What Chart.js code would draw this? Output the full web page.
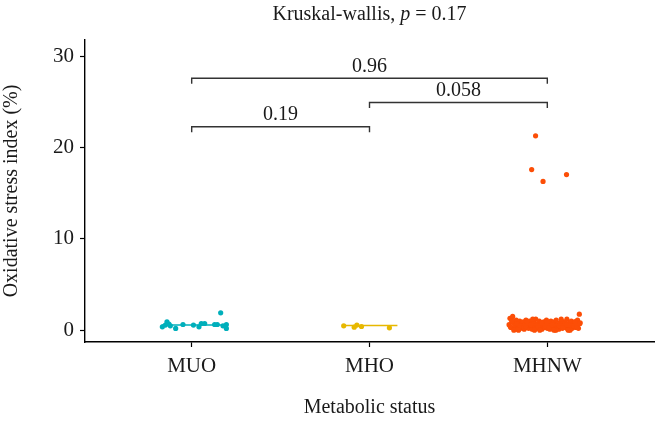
<html>
<head>
<script src="https://cdn.jsdelivr.net/npm/chart.js@4/dist/chart.umd.min.js"></script>
<style>
  body { margin: 0; background: #fff; }
  #wrap { width: 658px; height: 424px; }
</style>
</head>
<body>
<div id="wrap"><canvas id="chart"></canvas></div>
<script>
// groups and colours
const groups = ['MUO', 'MHO', 'MHNW'];
const groupColors = ['#00AFBB', '#E7B800', '#FC4E07'];
const yTicks = [0, 10, 20, 30];

// jitter offsets (category units) and values
const muoX = [-0.165, -0.148, -0.139, -0.128, -0.120, -0.090, -0.049, 0.010, 0.041, 0.054, 0.073, 0.129, 0.144, 0.163, 0.176, 0.195, 0.195];
const muoY = [0.36, 0.55, 0.91, 0.66, 0.47, 0.19, 0.62, 0.55, 0.36, 0.73, 0.73, 0.62, 0.62, 1.9, 0.47, 0.62, 0.19];

const mhoX = [-0.145, -0.086, -0.071, -0.045, 0.112];
const mhoY = [0.47, 0.33, 0.55, 0.40, 0.25];

const mhnwX = [
  -0.215, -0.21, -0.205, -0.20, -0.195, -0.19, -0.185, -0.18, -0.175, -0.17, -0.165, -0.16, -0.155, -0.15, -0.145, -0.14,
  -0.135, -0.13, -0.125, -0.12, -0.115, -0.11, -0.105, -0.10, -0.095, -0.09, -0.085, -0.08, -0.075, -0.07, -0.065, -0.06,
  -0.055, -0.05, -0.045, -0.04, -0.035, -0.03, -0.025, -0.02, -0.015, -0.01, -0.005, 0.00, 0.005, 0.01, 0.015, 0.02,
  0.025, 0.03, 0.035, 0.04, 0.045, 0.05, 0.055, 0.06, 0.065, 0.07, 0.075, 0.08, 0.085, 0.09, 0.095, 0.10,
  0.105, 0.11, 0.115, 0.12, 0.125, 0.13, 0.135, 0.14, 0.145, 0.15, 0.155, 0.16, 0.165, 0.17, 0.175, 0.185,
  -0.208, -0.188, -0.172, -0.152, -0.132, -0.112, -0.092, -0.072, -0.052, -0.032, -0.012, 0.008, 0.028, 0.048, 0.068, 0.088,
  0.108, 0.128, 0.148, 0.168, 0.182, -0.198, -0.162, -0.122, -0.082, -0.042, -0.002, 0.038, 0.078, 0.118, 0.158,
  -0.066, -0.088, -0.024, 0.108, 0.18
];
const mhnwY = [
  0.6, 1.3, 0.3, 0.9, 1.5, 0.2, 0.8, 0.5, 1.1, 0.1, 0.7, 0.4, 1.0, 0.2, 0.8, 0.5,
  0.9, 0.1, 0.6, 1.1, 0.3, 0.7, 0.2, 1.0, 0.5, 0.8, 0.1, 0.6, 0.9, 0.3, 1.2, 0.4,
  0.7, 0.2, 1.0, 0.5, 0.8, 0.1, 0.6, 0.9, 0.3, 0.7, 1.1, 0.2, 0.5, 0.8, 0.1, 1.0,
  0.4, 0.7, 0.2, 0.9, 0.5, 1.1, 0.3, 0.6, 0.1, 0.8, 0.4, 1.0, 0.2, 0.7, 0.5, 0.9,
  0.3, 1.2, 0.1, 0.6, 0.8, 0.4, 1.0, 0.2, 0.7, 0.5, 0.9, 0.3, 0.6, 1.1, 0.2, 0.8,
  0.4, 0.0, 0.7, 0.5, 0.3, 0.9, 0.6, 0.0, 0.4, 0.8, 0.5, 0.3, 0.6, 0.0, 0.5, 0.3,
  0.6, 0.0, 0.5, 0.4, 0.7, 1.0, 0.0, 0.4, 1.2, 0.0, 0.9, 0.0, 1.2, 0.0, 0.9,
  21.3, 17.6, 16.3, 17.05, 1.75
];

// horizontal median lines: [from offset, to offset, value]
const medianLo = [-0.169, -0.15, -0.2];
const medianHi = [0.185, 0.157, 0.19];
const medianVal = [0.55, 0.51, 0.6];

// pairwise comparisons
const pairFrom = [1, 2, 1];
const pairTo = [2, 3, 3];
const pairTop = [22.3, 24.95, 27.6];
const pairLabel = ['0.19', '0.058', '0.96'];
const bracketDrop = 0.6;

const FONT = "'Liberation Serif', 'DejaVu Serif', serif";

function pts(center, xs, ys) {
  return xs.map((x, i) => ({ x: center + x, y: ys[i] }));
}

const datasets = [];
// median lines first so points sit on top
groups.forEach((g, i) => {
  datasets.push({
    type: 'line',
    data: [{ x: i + 1 + medianLo[i], y: medianVal[i] }, { x: i + 1 + medianHi[i], y: medianVal[i] }],
    borderColor: groupColors[i],
    borderWidth: 1.5,
    pointRadius: 0
  });
});
const groupX = [muoX, mhoX, mhnwX];
const groupY = [muoY, mhoY, mhnwY];
groups.forEach((g, i) => {
  datasets.push({
    type: 'scatter',
    data: pts(i + 1, groupX[i], groupY[i]),
    backgroundColor: groupColors[i],
    borderColor: groupColors[i],
    borderWidth: 0,
    pointRadius: 2.6
  });
});
pairFrom.forEach((a, i) => {
  const b = pairTo[i], t = pairTop[i];
  datasets.push({
    type: 'line',
    data: [{ x: a, y: t - bracketDrop }, { x: a, y: t }, { x: b, y: t }, { x: b, y: t - bracketDrop }],
    borderColor: '#333333',
    borderWidth: 1.4,
    pointRadius: 0
  });
});

const textPlugin = {
  id: 'texts',
  afterDraw(chart) {
    const ctx = chart.ctx, xs = chart.scales.x, ys = chart.scales.y;
    ctx.save();
    ctx.fillStyle = '#1a1a1a';
    // bracket labels
    ctx.font = '20px ' + FONT;
    ctx.textAlign = 'center';
    ctx.textBaseline = 'bottom';
    pairLabel.forEach((lab, i) => {
      const cx = xs.getPixelForValue((pairFrom[i] + pairTo[i]) / 2);
      ctx.fillText(lab, cx, ys.getPixelForValue(pairTop[i]) - 2);
    });
    // title with italic p
    const parts = [['Kruskal-wallis, ', ''], ['p', 'italic '], [' = 0.17', '']];
    let w = 0;
    parts.forEach(p => { ctx.font = p[1] + '20px ' + FONT; w += ctx.measureText(p[0]).width; });
    let x = (chart.chartArea.left + chart.chartArea.right) / 2 - w / 2;
    ctx.textAlign = 'left';
    ctx.textBaseline = 'middle';
    parts.forEach(p => {
      ctx.font = p[1] + '20px ' + FONT;
      ctx.fillText(p[0], x, 15);
      x += ctx.measureText(p[0]).width;
    });
    ctx.restore();
  }
};

new Chart(document.getElementById('chart'), {
  data: { datasets: datasets },
  options: {
    responsive: true,
    maintainAspectRatio: false,
    animation: false,
    layout: { padding: { top: 40, right: 3, left: 0, bottom: 0 } },
    plugins: { legend: { display: false }, tooltip: { enabled: false } },
    scales: {
      x: {
        type: 'linear',
        min: 0.4,
        max: 3.6,
        afterBuildTicks: s => { s.ticks = [1, 2, 3].map(v => ({ value: v })); },
        afterFit: s => { s.height = 82; },
        ticks: {
          color: '#1a1a1a',
          font: { family: FONT, size: 21 },
          padding: 7,
          autoSkip: false,
          maxRotation: 0,
          callback: v => groups[v - 1]
        },
        grid: { drawOnChartArea: false, color: '#000', tickLength: 5, tickWidth: 1.2 },
        border: { color: '#000', width: 1.4 },
        title: {
          display: true,
          text: 'Metabolic status',
          color: '#1a1a1a',
          font: { family: FONT, size: 20 },
          padding: { top: 26 }
        }
      },
      y: {
        min: -1.3,
        max: 31.8,
        afterBuildTicks: s => { s.ticks = yTicks.map(v => ({ value: v })); },
        afterFit: s => { s.width = 85; },
        ticks: {
          color: '#1a1a1a',
          font: { family: FONT, size: 21 },
          padding: 6
        },
        grid: { drawOnChartArea: false, color: '#000', tickLength: 5, tickWidth: 1.2 },
        border: { color: '#000', width: 1.4 },
        title: {
          display: true,
          text: 'Oxidative stress index (%)',
          color: '#1a1a1a',
          font: { family: FONT, size: 20 },
          padding: { bottom: 0, top: 0 }
        }
      }
    }
  },
  plugins: [textPlugin]
});
</script>
</body>
</html>
